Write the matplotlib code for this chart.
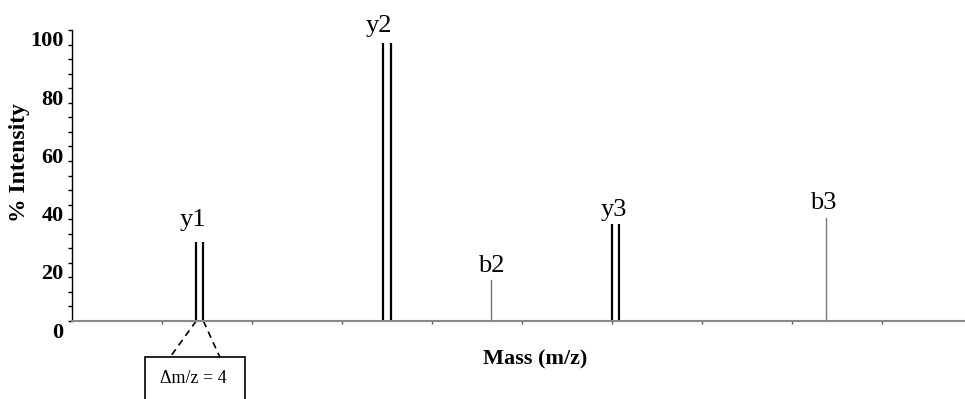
import matplotlib
matplotlib.use("Agg")
import matplotlib.pyplot as plt
import matplotlib.transforms as mtransforms
from matplotlib.patches import Rectangle

# peak data (m/z, % intensity)
pair_names = ["y1", "y2", "y3"]
pair_mz = [169, 273, 400]          # lighter partner, heavy one is +4
pair_delta = 4
pair_int = [27, 95.5, 33.5]

single_names = ["b2", "b3"]
single_mz = [333, 519]
single_int = [14, 35.5]

yticks = [0, 20, 40, 60, 80, 100]

plt.rcParams['font.family'] = ['Liberation Serif', 'DejaVu Serif']

fig = plt.figure(figsize=(9.65, 3.99), dpi=100)
ax = fig.add_axes([72/965, 78/399, 893/965, 291/399])

ax.set_xlim(100, 100 + 893/1.8)
ax.set_ylim(0, 100)

# label nudges (points) so text sits as in the original
pair_lab_dx = [-5, -6, -1]
pair_lab_dy = [8.5, 4.5, 1.5]
single_lab_dx = [0, -2]
single_lab_dy = [2.5, 2.5]

# doublets (light / heavy label)
for i, (name, mz, inten) in enumerate(zip(pair_names, pair_mz, pair_int)):
    for m in (mz, mz + pair_delta):
        ax.plot([m, m], [0, inten], color="black", lw=1.6, solid_capstyle="butt", clip_on=False)
    ax.annotate(name, (mz + pair_delta/2, inten), xytext=(pair_lab_dx[i], pair_lab_dy[i]),
                textcoords="offset points", ha="center", va="bottom", fontsize=19,
                annotation_clip=False)

# single b ions
for i, (name, mz, inten) in enumerate(zip(single_names, single_mz, single_int)):
    ax.plot([mz, mz], [0, inten], color="#777777", lw=1.0, clip_on=False)
    ax.annotate(name, (mz, inten), xytext=(single_lab_dx[i], single_lab_dy[i]),
                textcoords="offset points", ha="center", va="bottom", fontsize=19)

# axes styling
ax.spines["top"].set_visible(False)
ax.spines["right"].set_visible(False)
ax.spines["left"].set_color("black")
ax.spines["left"].set_linewidth(1.0)
ax.spines["bottom"].set_color("#888888")
ax.spines["bottom"].set_linewidth(1.5)

ax.set_yticks(yticks)
ax.set_yticklabels([str(t) for t in yticks], fontweight="bold", fontsize=16)
ax.set_yticks(range(0, 101, 5), minor=True)
ax.tick_params(axis="y", which="both", direction="out", length=3, width=1, pad=3)
offset = mtransforms.ScaledTranslation(0, -9/100, fig.dpi_scale_trans)
for lab in ax.get_yticklabels():
    lab.set_transform(lab.get_transform() + offset)

ax.set_xticks(range(150, 600, 50))
ax.set_xticklabels([])
ax.tick_params(axis="x", direction="out", length=2, width=1, color="#555555")

fig.text(20/965, 1 - 163/399, "% Intensity", rotation=90, ha="center", va="center",
         fontsize=17, fontweight="bold")
fig.text(535/965, 1 - 359/399, "Mass (m/z)", ha="center", va="center",
         fontsize=16, fontweight="bold")

# delta m/z callout under y1
y_box = -12.5
ax.plot([pair_mz[0], 154.4], [0, y_box], color="black", lw=1.2, ls=(0, (4, 3)), clip_on=False)
ax.plot([pair_mz[0] + pair_delta, 182.2], [0, y_box], color="black", lw=1.2, ls=(0, (4, 3)), clip_on=False)
ax.add_patch(Rectangle((140.6, -40), 55.5, 40 + y_box, fill=False, edgecolor="black",
                       lw=1.2, clip_on=False))
ax.text(167.5, -19.8, "\u0394m/z = 4", ha="center", va="center", fontsize=13)

fig.savefig("out.png", dpi=100)
